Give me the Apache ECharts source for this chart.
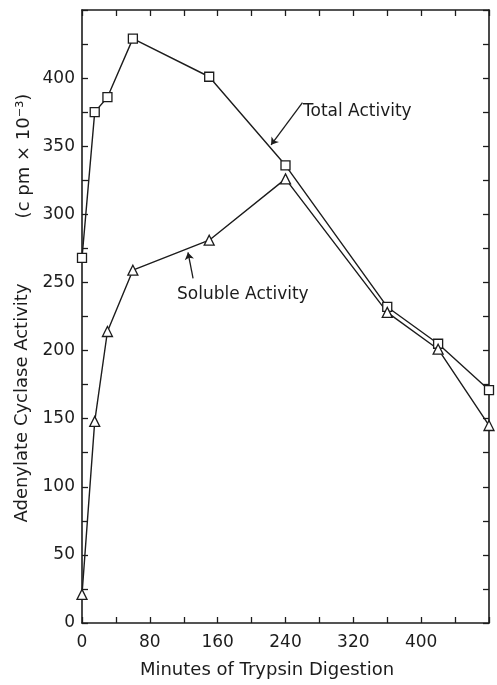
<!DOCTYPE html>
<html>
<head>
<meta charset="utf-8">
<script src="https://cdn.jsdelivr.net/npm/echarts@6/dist/echarts.min.js"></script>
<style>
html,body{margin:0;padding:0;background:#fff;}
#chart{width:497px;height:685px;}
</style>
</head>
<body>
<div id="chart"></div>
<script>
// Data (minutes of trypsin digestion, activity in cpm x 10^-3)
var minutes = [0, 15, 30, 60, 150, 240, 360, 420, 480];
var totalActivity = [268, 375, 386, 429, 401, 336, 232, 205, 171];
var solubleActivity = [21, 148, 214, 259, 281, 326, 228, 201, 145];
var xTickLabels = [0, 80, 160, 240, 320, 400];
var yTickLabels = [0, 50, 100, 150, 200, 250, 300, 350, 400];

var FONT = 'DejaVu Sans';
var INK = '#1c1c1c';

function pairs(xs, ys) { return xs.map(function (x, i) { return [x, ys[i]]; }); }

var chart = echarts.init(document.getElementById('chart'), null, {renderer: 'canvas'});

var tickStyle = {show: true, inside: true, length: 6, lineStyle: {color: INK, width: 1.3}};
var lineStyleAxis = {show: true, onZero: false, lineStyle: {color: INK, width: 1.6}};

var option = {
  backgroundColor: '#fff',
  animation: false,
  grid: {left: 82, right: 8, top: 10, bottom: 62, containLabel: false},
  xAxis: [{
    type: 'value', min: 0, max: 480, interval: 40,
    axisLine: lineStyleAxis, axisTick: tickStyle, splitLine: {show: false},
    axisLabel: {
      color: INK, fontFamily: FONT, fontSize: 17, margin: 11,
      showMaxLabel: true,
      formatter: function (v) { return xTickLabels.indexOf(v) >= 0 ? String(v) : ''; }
    }
  }, {
    type: 'value', position: 'top', min: 0, max: 480, interval: 40,
    axisLine: lineStyleAxis, axisTick: tickStyle, splitLine: {show: false},
    axisLabel: {show: false}
  }],
  yAxis: [{
    type: 'value', min: 0, max: 450, interval: 25,
    axisLine: lineStyleAxis, axisTick: tickStyle, splitLine: {show: false},
    axisLabel: {
      color: INK, fontFamily: FONT, fontSize: 17, margin: 7,
      formatter: function (v) { return yTickLabels.indexOf(v) >= 0 ? String(v) : ''; }
    }
  }, {
    type: 'value', position: 'right', min: 0, max: 450, interval: 25,
    axisLine: lineStyleAxis, axisTick: tickStyle, splitLine: {show: false},
    axisLabel: {show: false}
  }],
  series: [{
    name: 'Total Activity', type: 'line',
    data: pairs(minutes, totalActivity),
    symbol: 'rect', symbolSize: 9,
    lineStyle: {color: INK, width: 1.4},
    itemStyle: {color: '#fff', borderColor: INK, borderWidth: 1.3},
    z: 3,
    markLine: {
      silent: true, symbol: ['none', 'arrow'], symbolSize: 7,
      lineStyle: {color: INK, width: 1.3, type: 'solid'},
      label: {show: false},
      data: [[{coord: [260, 382]}, {coord: [223, 351]}]]
    }
  }, {
    name: 'Soluble Activity', type: 'line',
    data: pairs(minutes, solubleActivity),
    symbol: 'triangle', symbolSize: 10,
    lineStyle: {color: INK, width: 1.4},
    itemStyle: {color: '#fff', borderColor: INK, borderWidth: 1.3},
    z: 3,
    markLine: {
      silent: true, symbol: ['none', 'arrow'], symbolSize: 7,
      lineStyle: {color: INK, width: 1.3, type: 'solid'},
      label: {show: false},
      data: [[{coord: [131, 253]}, {coord: [125, 272]}]]
    }
  }],
  graphic: [{
    type: 'text', x: 22, y: 403, rotation: Math.PI / 2,
    style: {text: 'Adenylate Cyclase Activity', fill: INK, font: '18px "DejaVu Sans"', align: 'center', verticalAlign: 'middle'}
  }, {
    type: 'text', x: 24, y: 156, rotation: Math.PI / 2,
    style: {text: '(c pm × 10⁻³)', fill: INK, font: '18px "DejaVu Sans"', align: 'center', verticalAlign: 'middle'}
  }, {
    type: 'text', x: 267, y: 670,
    style: {text: 'Minutes of Trypsin Digestion', fill: INK, font: '18px "DejaVu Sans"', align: 'center', verticalAlign: 'middle'}
  }, {
    type: 'text', x: 303, y: 112,
    style: {text: 'Total Activity', fill: INK, font: '17px "DejaVu Sans"', align: 'left', verticalAlign: 'middle'}
  }, {
    type: 'text', x: 177, y: 295,
    style: {text: 'Soluble Activity', fill: INK, font: '17px "DejaVu Sans"', align: 'left', verticalAlign: 'middle'}
  }]
};
chart.setOption(option);
</script>
</body>
</html>
